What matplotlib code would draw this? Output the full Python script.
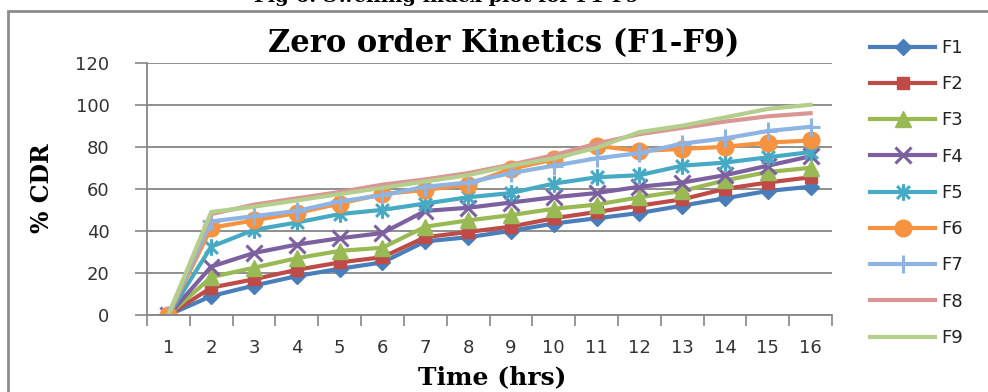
import numpy as np
import matplotlib
matplotlib.use("Agg")
import matplotlib.pyplot as plt
from matplotlib.path import Path
from matplotlib.patches import Rectangle

# % cumulative drug release per formulation, hourly samples
hours = list(range(1, 17))
F1 = [0, 9, 14, 18.5, 22, 25, 35, 37, 40, 43.5, 46, 48.5, 52, 55.5, 59, 61]
F2 = [0, 13, 17, 21.5, 25, 27.5, 37, 39.5, 42, 46, 49, 52, 55, 60, 63, 65.5]
F3 = [0, 18, 22.5, 27, 30.5, 32, 42, 45, 47.5, 50.5, 52.5, 56, 59, 64, 68, 70]
F4 = [0, 23, 29.5, 33.5, 36.5, 39, 49.5, 51, 53.5, 56, 58, 61, 63, 66.5, 71, 75.5]
F5 = [0, 32.5, 40.5, 44, 48, 50, 53, 56, 58, 62.5, 65.5, 66.5, 71, 72.5, 75, 77.5]
F6 = [0, 41.5, 45, 48.5, 53, 57.5, 59.5, 62, 69.5, 74, 80.5, 78, 79, 80, 82, 83]
F7 = [0, 44.5, 47, 49.5, 54, 57, 61, 63, 67.5, 71, 74.5, 77, 81.5, 84, 87.5, 89.5]
F8 = [0, 48, 52.5, 55.5, 58.5, 62, 64.5, 67.5, 71.5, 76, 81.5, 86, 89, 92, 94.5, 96]
F9 = [0, 49, 51.5, 54.5, 57.5, 60.5, 63.5, 66.5, 71, 74.5, 79.5, 87, 90, 94, 98, 100]

names = ["F1", "F2", "F3", "F4", "F5", "F6", "F7", "F8", "F9"]
series = [F1, F2, F3, F4, F5, F6, F7, F8, F9]
colors = ["#4a7ebb", "#be4b48", "#98b954", "#7d60a0", "#46aac5",
          "#f69240", "#8eb4e3", "#d99694", "#b3cf8b"]

# excel-style asterisk: an x with a vertical bar through it
star = Path([(-1, -1), (1, 1), (-1, 1), (1, -1), (0, -1.3), (0, 1.3)],
            [Path.MOVETO, Path.LINETO, Path.MOVETO, Path.LINETO, Path.MOVETO, Path.LINETO])

styles = [
    dict(marker="D", ms=8),
    dict(marker="s", ms=9),
    dict(marker="^", ms=11),
    dict(marker="x", ms=11, mew=2.2),
    dict(marker=star, ms=12, mew=2.2),
    dict(marker="o", ms=12),
    dict(marker="+", ms=13, mew=2.2),
    dict(marker=None),
    dict(marker=None),
]

serif = "DejaVu Serif"
grey = "#868686"

fig = plt.figure(figsize=(9.88, 3.92), dpi=100)
ax = fig.add_axes([147 / 988, 1 - 315 / 392, 685 / 988, 252.3 / 392])

for name, vals, col, st in zip(names, series, colors, styles):
    ax.plot(hours, vals, color=col, lw=3, label=name,
            markerfacecolor=col, markeredgecolor=col, **st)

ax.set_ylim(0, 120)
ax.set_yticks(np.arange(0, 121, 20))
ax.set_xlim(0.5, 16.5)

# category boundaries get the tick marks, centres get the labels
ax.set_xticks(np.arange(0.5, 16.6, 1))
ax.set_xticklabels([])
ax.set_xticks(hours, minor=True)
ax.set_xticklabels([str(h) for h in hours], minor=True)
ax.tick_params(axis="x", which="major", length=8, width=1.2, color=grey)
ax.tick_params(axis="x", which="minor", length=0, pad=17, labelsize=13, labelcolor="#333333")
ax.tick_params(axis="y", length=9, width=1.2, color=grey, pad=18,
               labelsize=13, labelcolor="#333333")

ax.grid(axis="y", color=grey, lw=1.3)
ax.set_axisbelow(True)
for s in ["top", "right"]:
    ax.spines[s].set_visible(False)
for s in ["left", "bottom"]:
    ax.spines[s].set_color(grey)
    ax.spines[s].set_linewidth(1.3)

leg = ax.legend(loc="upper left", bbox_to_anchor=(870 / 988, 1 - 39 / 392),
                bbox_transform=fig.transFigure, frameon=False, fontsize=13,
                handlelength=3.6, handletextpad=0.35, labelspacing=1.01,
                borderaxespad=0, borderpad=0)
for t in leg.get_texts():
    t.set_color("#222222")

fig.text(504 / 988, 1 - 44 / 392, "Zero order Kinetics (F1-F9)", family=serif,
         weight="bold", fontsize=22, ha="center", va="center")
fig.text(42 / 988, 1 - 188 / 392, "% CDR", family=serif, weight="bold",
         fontsize=17, rotation=90, ha="center", va="center")
fig.text(492 / 988, 1 - 377 / 392, "Time (hrs)", family=serif, weight="bold",
         fontsize=18, ha="center", va="center")
# caption sits mostly above the visible area
fig.text(447 / 988, 1 - 2 / 392, "Fig 6: Swelling index plot for F1-F9", family=serif,
         weight="bold", fontsize=14, ha="center", va="baseline")

# chart area frame, running off the right and bottom edges
fig.patches.append(Rectangle((8 / 988, -0.2), 1.2, 0.2 + 1 - 11 / 392,
                             transform=fig.transFigure, fill=False,
                             edgecolor="#8c8c8c", lw=2))

fig.savefig("out.png", dpi=100)
